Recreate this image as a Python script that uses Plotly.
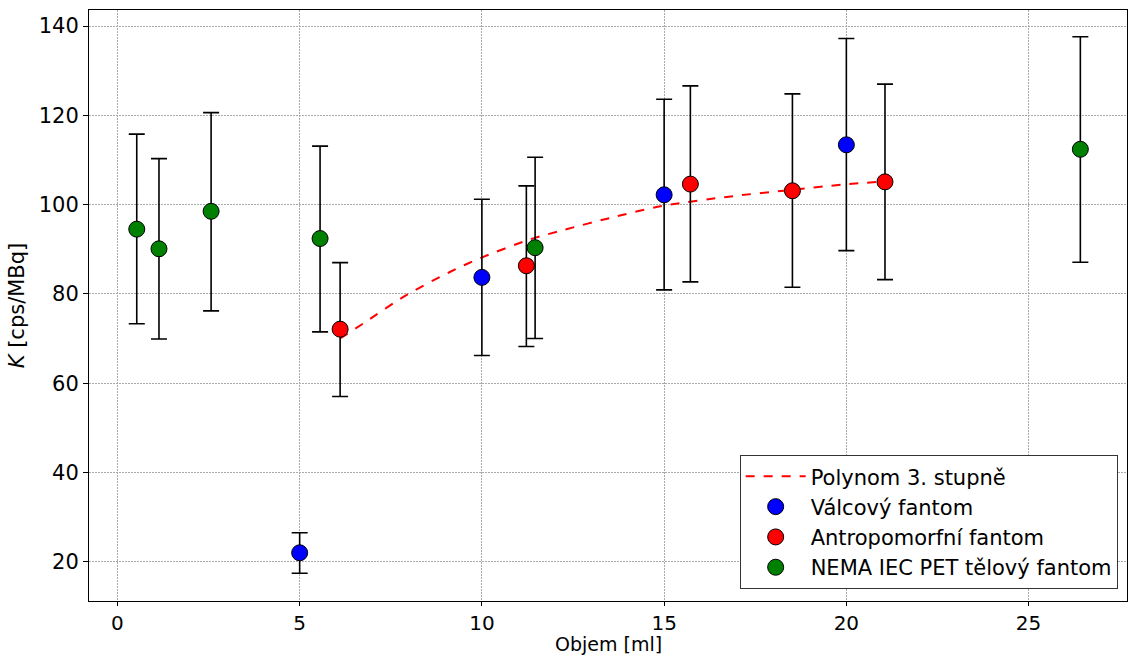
import plotly.graph_objects as go

# Válcový fantom
valc_x = [5.0, 10.0, 15.0, 20.0]
valc_y = [22.0, 83.7, 102.2, 113.4]
valc_hi = [26.5, 101.2, 123.6, 137.2]
valc_lo = [17.4, 66.2, 80.9, 89.7]

# Antropomorfní fantom
antr_x = [6.11, 11.22, 15.72, 18.52, 21.06]
antr_y = [72.1, 86.3, 104.6, 103.1, 105.1]
antr_hi = [87.0, 104.2, 126.6, 124.8, 127.0]
antr_lo = [57.0, 68.2, 82.7, 81.5, 83.2]

# NEMA IEC PET tělový fantom
nema_x = [0.53, 1.14, 2.57, 5.56, 11.46, 26.42]
nema_y = [94.5, 90.1, 98.5, 92.4, 90.35, 112.4]
nema_hi = [115.8, 110.3, 120.6, 113.1, 110.6, 137.6]
nema_lo = [73.3, 69.9, 76.2, 71.5, 70.0, 87.1]

# Polynom 3. stupně
fit_x = [6.11, 6.75, 7.94, 9.12, 9.95, 11.32, 12.23, 13.51, 14.95, 16.89, 18.51, 19.91, 21.06]
fit_y = [70.0, 73.4, 79.8, 84.9, 88.0, 92.2, 94.3, 97.0, 99.7, 101.9, 103.3, 104.5, 105.2]

X_TITLE = "Objem [ml]"
Y_TITLE = "<i>K</i> [cps/MBq]"

FONT = "DejaVu Sans"
FS = 21

fig = go.Figure()

fig.add_trace(go.Scatter(
    x=fit_x, y=fit_y, mode="lines", name="Polynom 3. stupně", legendgroup="g0",
    line=dict(color="red", width=2, dash="dash", shape="spline", smoothing=0.8),
))


def add_series(xs, ys, hi, lo, color, name, grp):
    fig.add_trace(go.Scatter(
        x=xs, y=ys, mode="markers", name=name, legendgroup=grp,
        marker=dict(color=color, size=16, line=dict(color="black", width=1)),
        error_y=dict(
            type="data", symmetric=False,
            array=[h - y for h, y in zip(hi, ys)],
            arrayminus=[y - l for y, l in zip(ys, lo)],
            color="black", thickness=1.6, width=8,
        ),
    ))


add_series(valc_x, valc_y, valc_hi, valc_lo, "blue", "Válcový fantom", "g1")
add_series(antr_x, antr_y, antr_hi, antr_lo, "red", "Antropomorfní fantom", "g2")
add_series(nema_x, nema_y, nema_hi, nema_lo, "green", "NEMA IEC PET tělový fantom", "g3")

axis_common = dict(
    showline=True, linecolor="black", linewidth=1, mirror=True,
    ticks="outside", tickcolor="black", tickwidth=1,
    showgrid=True, gridcolor="#aaaaaa", gridwidth=0.8, griddash="2px,1px",
    zeroline=False,
    automargin=False,
)

fig.update_xaxes(
    range=[-0.78, 27.7], tickvals=[0, 5, 10, 15, 20, 25], ticklen=4,
    tickfont=dict(family=FONT, size=20, color="black"),
    **axis_common,
)
fig.update_yaxes(
    range=[11.2, 143.6], tickvals=[20, 40, 60, 80, 100, 120, 140], ticklen=5,
    tickfont=dict(family=FONT, size=FS, color="black"),
    title=dict(text=Y_TITLE, font=dict(family=FONT, size=FS, color="black"), standoff=8),
    **axis_common,
)

fig.add_annotation(
    text=X_TITLE, xref="paper", yref="paper", x=0.5, y=0,
    xanchor="center", yanchor="middle", yshift=-43, showarrow=False,
    borderpad=0, font=dict(family=FONT, size=19, color="black"),
)

fig.update_layout(
    width=1128, height=656,
    margin=dict(l=89, r=1, t=10, b=55),
    plot_bgcolor="white", paper_bgcolor="white",
    font=dict(family=FONT, size=FS, color="black"),
    legend=dict(
        x=0.991, y=0.02, xanchor="right", yanchor="bottom",
        bgcolor="white", bordercolor="#333", borderwidth=1,
        font=dict(family=FONT, size=FS, color="black"),
        tracegroupgap=0, itemwidth=60,
    ),
    showlegend=True,
)

fig.write_html("out.html")
